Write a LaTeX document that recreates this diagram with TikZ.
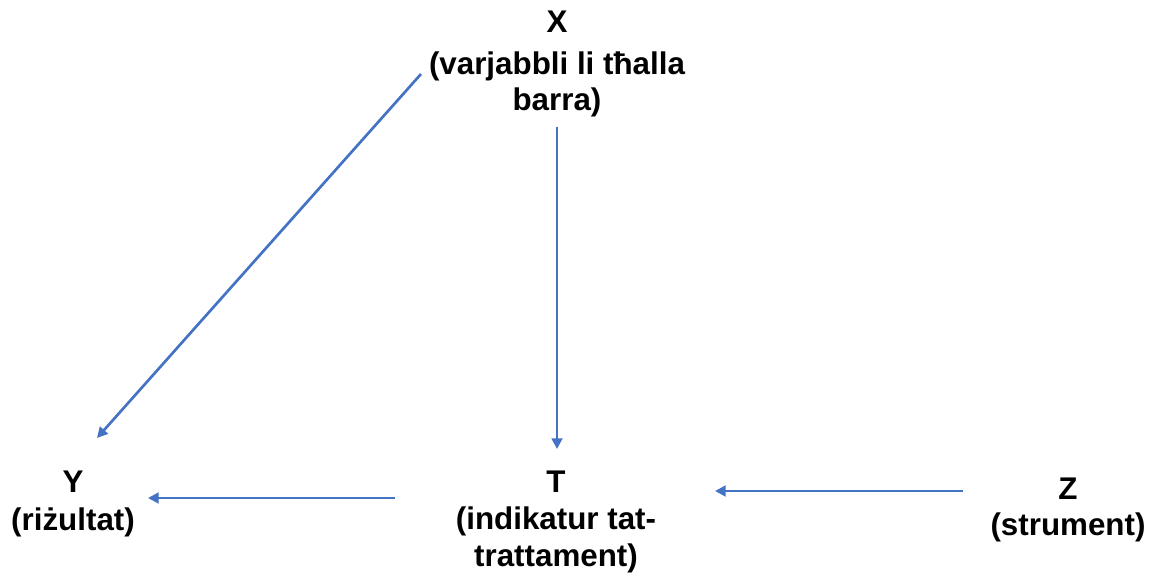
\documentclass[tikz,border=0pt]{standalone}
\usepackage{fontspec}
\setmainfont{Liberation Sans}
\usetikzlibrary{arrows.meta}
\definecolor{arrblue}{HTML}{4472C4}
\tikzset{
  lbl/.style={align=center, inner sep=0pt, font=\bfseries\fontsize{23.5}{27.5}\selectfont},
  arr/.style={draw=arrblue, line width=2pt, -{Triangle[length=8pt,width=8pt]}}
}
\begin{document}
\begin{tikzpicture}[x=0.75pt,y=-0.75pt]
\useasboundingbox (0,0) rectangle (1152,580);
\node[lbl] (X) at (557,64) {X\\[4pt](varjabbli li tħalla\\barra)};
\node[lbl] (Y) at (73,504) {Y\\[1pt](riżultat)};
\node[lbl] (T) at (556,522) {T\\(indikatur tat-\\trattament)};
\node[lbl] (Z) at (1068,510) {Z\\(strument)};
\draw[arr] ([shift={(-136,10)}]X.center) -- ([shift={(24,-66)}]Y.center);
\draw[arr] ([shift={(0,63)}]X.center) -- ([shift={(1,-73)}]T.center);
\draw[arr] ([shift={(-161,-24)}]T.center) -- ([shift={(75,-6)}]Y.center);
\draw[arr] ([shift={(-105,-19)}]Z.center) -- ([shift={(159,-31)}]T.center);
\end{tikzpicture}
\end{document}
